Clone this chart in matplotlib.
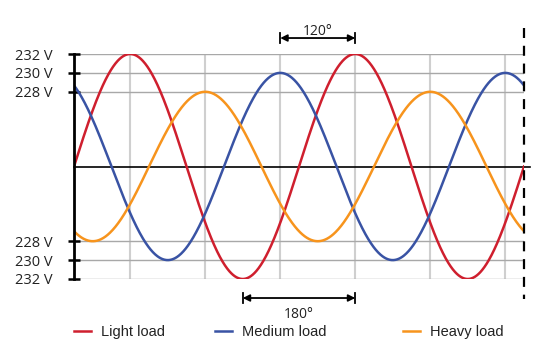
#!/usr/bin/env python3
# Three phase-shifted voltage waves under different loads
import numpy as np
import matplotlib.pyplot as plt

series = ['Light load', 'Medium load', 'Heavy load']
amplitudes = [1.0, 0.832, 0.664]      # relative peak heights (232 / 230 / 228 V)
phases = [0, 240, 120]                # phase lag in degrees
colors = ['#cf1f2e', '#3953a4', '#f7941d']
volt_labels = ['232 V', '230 V', '228 V']
grid_deg = [90, 210, 330, 450, 570, 690]
x_end = 720

plt.rcParams['font.family'] = ['Open Sans', 'DejaVu Sans']

W, H = 533, 348
fig = plt.figure(figsize=(W / 100, H / 100), dpi=100)
ax = fig.add_axes([74 / W, (H - 279) / H, (524 - 74) / W, (279 - 54) / H])

theta = np.linspace(0, x_end, 1000)
handles = []
for name, amp, ph, c in zip(series, amplitudes, phases, colors):
    y = amp * np.sin(np.radians(theta - ph))
    line, = ax.plot(theta, y, color=c, lw=1.8, label=name, zorder=3)
    handles.append(line)

# grid
for g in grid_deg:
    ax.axvline(g, color='#cfcfcf', lw=1.5, zorder=1)
for a in amplitudes:
    ax.axhline(a, color='#a8a8a8', lw=1, zorder=1)
    ax.axhline(-a, color='#a8a8a8', lw=1, zorder=1)

ax.plot([0, 729], [0, 0], color='black', lw=1.2, zorder=2, clip_on=False)
ax.plot([x_end, x_end], [1.231, -1.18], color='black', lw=1.6,
        ls=(0, (4.5, 3.5)), zorder=4, clip_on=False)

ax.set_xlim(0, x_end)
ax.set_ylim(-1, 1)
ax.set_xticks([])
yt = list(amplitudes) + [-a for a in amplitudes]
ax.set_yticks(yt)
ax.set_yticklabels(volt_labels + volt_labels)
ax.tick_params(axis='y', direction='inout', length=8, width=1.8, labelsize=10.5,
               pad=11.5, colors='black', labelcolor='#222222')
for s in ['top', 'right', 'bottom']:
    ax.spines[s].set_visible(False)
ax.spines['left'].set_linewidth(2)
ax.spines['left'].set_zorder(5)


def span(x0, x1, y, label, ty):
    ax.annotate('', xy=(x1, y), xytext=(x0, y), annotation_clip=False,
                arrowprops=dict(arrowstyle='<|-|>', color='black', lw=1.3,
                                shrinkA=0, shrinkB=0, mutation_scale=10))
    for xx in (x0, x1):
        ax.plot([xx, xx], [y - 0.045, y + 0.045], color='black', lw=1.3,
                clip_on=False)
    ax.text((x0 + x1) / 2, ty, label, ha='center', va='center', fontsize=10,
            color='#222222', clip_on=False)


span(330, 450, 1.142, '120°', 1.2)
span(270, 450, -1.169, '180°', -1.32)

# legend, one entry each
legend_x = [74, 215, 403]
for h, lx in zip(handles, legend_x):
    lg = fig.legend(handles=[h], loc='center left', frameon=False,
                    bbox_to_anchor=((lx - 7) / W, (H - 332) / H),
                    handlelength=1.15, handletextpad=0.65, borderpad=0,
                    prop={'family': 'Liberation Sans', 'size': 10.5})
    for t in lg.get_texts():
        t.set_color('#222222')

fig.savefig('out.png', dpi=100)
